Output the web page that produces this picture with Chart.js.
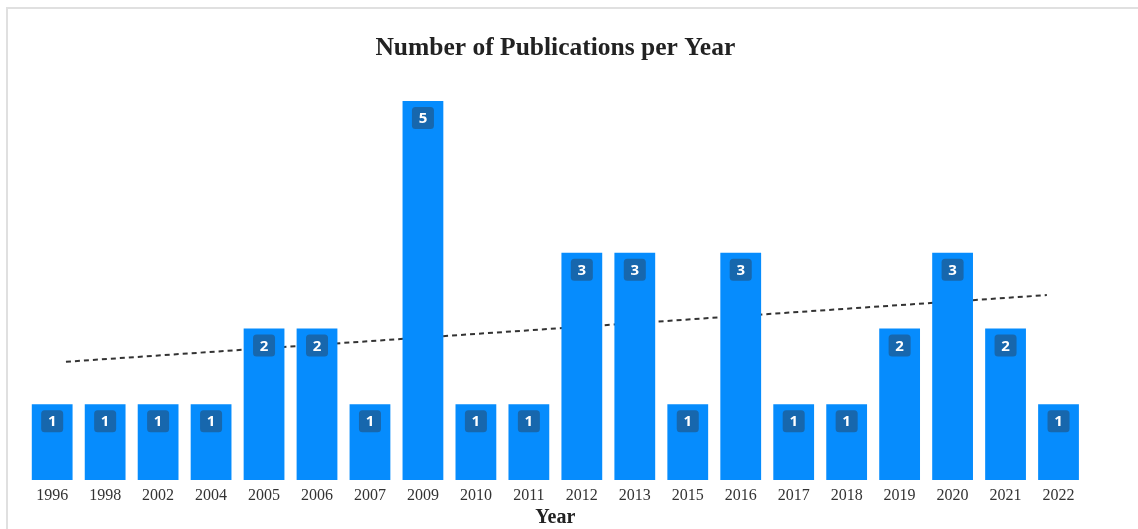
<!DOCTYPE html>
<html>
<head>
<meta charset="utf-8">
<script src="https://cdn.jsdelivr.net/npm/chart.js@4"></script>
<style>
  html, body { margin: 0; padding: 0; background: #fff; }
  #wrap { position: relative; width: 1138px; height: 529px; overflow: hidden; }
  #frame { position: absolute; left: 6px; top: 7px; right: -10px; bottom: -10px;
           border-top: 2px solid #e0e0e0; border-left: 2px solid #e0e0e0; pointer-events: none; }
  canvas { position: absolute; left: 0; top: 0; }
</style>
</head>
<body>
<div id="wrap">
  <canvas id="pubChart" width="1138" height="529"></canvas>
  <div id="frame"></div>
</div>
<script>
// 年份（类目）
const years = ['1996', '1998', '2002', '2004', '2005', '2006', '2007', '2009', '2010', '2011',
               '2012', '2013', '2015', '2016', '2017', '2018', '2019', '2020', '2021', '2022'];
// 每年发表数量
const counts = [1, 1, 1, 1, 2, 2, 1, 5, 1, 1, 3, 3, 1, 3, 1, 1, 2, 3, 2, 1];
// 趋势线两端（类目位置, 数值）
const trendX = [0.26, 18.78];
const trendY = [1.56, 2.44];

// 柱顶数值标签
const barLabels = {
    id: 'barLabels',
    afterDatasetsDraw(chart) {
        const ctx = chart.ctx;
        const meta = chart.getDatasetMeta(0);
        ctx.save();
        meta.data.forEach((bar, i) => {
            const w = 22, h = 22;
            const x = bar.x - w / 2;
            const y = bar.y + 6;
            ctx.fillStyle = '#1767ad';
            ctx.beginPath();
            ctx.roundRect(x, y, w, h, 3.5);
            ctx.fill();
            ctx.fillStyle = '#ffffff';
            ctx.font = "bold 15px 'Open Sans', sans-serif";
            ctx.textAlign = 'center';
            ctx.textBaseline = 'middle';
            ctx.fillText(String(counts[i]), bar.x, y + h / 2 + 1);
        });
        ctx.restore();
    }
};

const ctx = document.getElementById('pubChart').getContext('2d');
new Chart(ctx, {
    type: 'bar',
    data: {
        labels: years,
        datasets: [{
            type: 'bar',
            data: counts,
            backgroundColor: '#068cfd',
            borderWidth: 0,
            grouped: false,
            barPercentage: 0.77,
            categoryPercentage: 1.0,
            order: 1
        }, {
            // 趋势线画在柱子下面
            type: 'line',
            data: trendX.map((x, i) => ({ x: x, y: trendY[i] })),
            xAxisID: 'xt',
            borderColor: '#333333',
            borderWidth: 2,
            borderDash: [5, 4],
            pointRadius: 0,
            fill: false,
            order: 3
        }]
    },
    options: {
        responsive: false,
        animation: false,
        layout: { padding: { left: 25.7, right: 53, top: 33, bottom: -1 } },
        plugins: {
            legend: { display: false },
            tooltip: { enabled: false },
            title: {
                display: true,
                text: 'Number of Publications per Year',
                color: '#222',
                font: { family: "'Liberation Serif', 'Times New Roman', serif", size: 25.5, weight: 'bold', lineHeight: 1.2 },
                padding: { top: 0, bottom: 37.5 }
            }
        },
        scales: {
            x: {
                grid: { display: false, drawTicks: false },
                border: { display: false },
                ticks: {
                    color: '#333',
                    padding: 8,
                    maxRotation: 0,
                    font: { family: "'Liberation Serif', 'Times New Roman', serif", size: 16, lineHeight: 1 }
                },
                title: {
                    display: true,
                    text: 'Year',
                    color: '#222',
                    padding: { top: -6, bottom: 0 },
                    font: { family: "'Liberation Serif', 'Times New Roman', serif", size: 20, weight: 'bold', lineHeight: 1.2 }
                }
            },
            xt: {
                type: 'linear',
                display: false,
                offset: false,
                grid: { offset: false },
                min: -0.5,
                max: 19.5
            },
            y: {
                display: false,
                min: 0,
                max: 5
            }
        }
    },
    plugins: [barLabels]
});
</script>
</body>
</html>
